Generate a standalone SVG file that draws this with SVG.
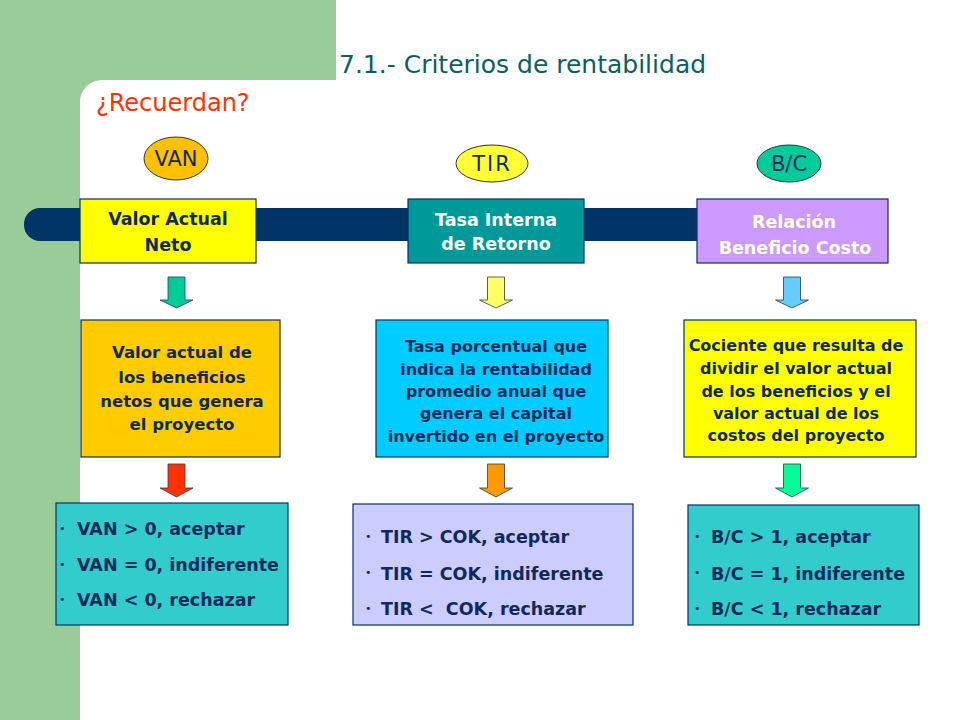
<svg xmlns="http://www.w3.org/2000/svg" width="960" height="720" viewBox="0 0 960 720">
<style>
.bx{stroke:#003366;stroke-width:1.2}
.t{font-family:"DejaVu Sans","Liberation Sans",sans-serif;font-weight:bold;fill:#0f2a5a;text-anchor:middle}
.tw{fill:#ffffff}
.tc{fill:#ffffe6}
.lab{font-family:"DejaVu Sans","Liberation Sans",sans-serif;font-size:21px;fill:#0f2a5a;text-anchor:middle}
.li{font-family:"DejaVu Sans","Liberation Sans",sans-serif;font-weight:bold;font-size:17.5px;fill:#0f2a5a;white-space:pre}
.bu{font-family:"DejaVu Sans","Liberation Sans",sans-serif;font-size:11px;fill:#0f2a5a}
.el{stroke:#333333;stroke-width:1}
.ar{stroke:#2b3a55;stroke-width:0.8}
</style>
<defs>
<path id="a1" d="M-8.5,0 H8.5 V23 H16.5 L0,31 L-16.5,23 H-8.5 Z"/>
<path id="a2" d="M-8.5,0 H8.5 V24 H16.5 L0,33 L-16.5,24 H-8.5 Z"/>
</defs>
<rect x="0" y="0" width="960" height="720" fill="#ffffff"/>
<rect x="0" y="0" width="336" height="110" fill="#99cc99"/>
<rect x="0" y="0" width="80" height="720" fill="#99cc99"/>
<rect x="80" y="80" width="900" height="700" rx="22" fill="#ffffff"/>
<text x="339" y="73" font-family="DejaVu Sans, Liberation Sans, sans-serif" font-size="25" fill="#0b5f5f">7.1.- Criterios de rentabilidad</text>
<text x="96" y="111" font-family="DejaVu Sans, Liberation Sans, sans-serif" font-size="24" fill="#ff3300">¿Recuerdan?</text>
<g id="connectors">
<rect x="24" y="208" width="780" height="33" rx="16" fill="#003366"/>
<use href="#a1" x="176.5" y="277" fill="#00cc99" class="ar"/>
<use href="#a1" x="496" y="277" fill="#ffff66" class="ar"/>
<use href="#a1" x="792" y="277" fill="#66ccff" class="ar"/>
<use href="#a2" x="176.5" y="464" fill="#ff3300" class="ar"/>
<use href="#a2" x="496" y="464" fill="#ff9900" class="ar"/>
<use href="#a2" x="792" y="464" fill="#00ff99" class="ar"/>
</g>
<g id="van-label"><ellipse cx="176" cy="158.5" rx="32" ry="21.5" fill="#ffc000" class="el"/><text x="176" y="166" class="lab" font-size="22">VAN</text></g>
<g id="tir-label"><ellipse cx="492" cy="163.5" rx="36" ry="18.5" fill="#ffff33" class="el"/><text x="492" y="171" class="lab" letter-spacing="2">TIR</text></g>
<g id="bc-label"><ellipse cx="789" cy="163.5" rx="32" ry="18.5" fill="#00cc99" class="el"/><text x="789" y="171" class="lab">B/C</text></g>
<g id="van-head"><rect x="80" y="199" width="176" height="64" fill="#ffff00" class="bx"/><text class="t" font-size="17.5"><tspan x="168" y="225">Valor Actual</tspan><tspan x="168" y="251">Neto</tspan></text></g>
<g id="tir-head"><rect x="408" y="199" width="176" height="64" fill="#009999" class="bx"/><text class="t tw" font-size="17.5"><tspan x="496" y="226">Tasa Interna</tspan><tspan x="496" y="250">de Retorno</tspan></text></g>
<g id="bc-head"><rect x="697" y="199" width="191" height="64" fill="#cc99ff" class="bx"/><text class="t tc" font-size="17.5"><tspan x="794" y="228">Relación</tspan><tspan x="795" y="254">Beneficio Costo</tspan></text></g>
<g id="van-def"><rect x="81" y="320" width="199" height="137" fill="#ffcc00" class="bx"/><text class="t" font-size="16.5"><tspan x="182" y="358">Valor actual de</tspan><tspan x="182" y="383">los beneficios</tspan><tspan x="182" y="407">netos que genera</tspan><tspan x="182" y="430">el proyecto</tspan></text></g>
<g id="tir-def"><rect x="376" y="320" width="232" height="137" fill="#00ccff" class="bx"/><text class="t" font-size="16"><tspan x="496" y="352">Tasa porcentual que</tspan><tspan x="496" y="375">indica la rentabilidad</tspan><tspan x="496" y="397">promedio anual que</tspan><tspan x="496" y="419">genera el capital</tspan><tspan x="496" y="442">invertido en el proyecto</tspan></text></g>
<g id="bc-def"><rect x="684" y="320" width="232" height="137" fill="#ffff00" class="bx"/><text class="t" font-size="16"><tspan x="796" y="351">Cociente que resulta de</tspan><tspan x="796" y="374">dividir el valor actual</tspan><tspan x="796" y="397">de los beneficios y el</tspan><tspan x="796" y="419">valor actual de los</tspan><tspan x="796" y="441">costos del proyecto</tspan></text></g>
<g id="van-rule"><rect x="56" y="503" width="232" height="122" fill="#33cccc" class="bx"/>
<text class="bu"><tspan x="59" y="532">•</tspan><tspan x="59" y="568">•</tspan><tspan x="59" y="603">•</tspan></text>
<text class="li"><tspan x="77" y="535">VAN &gt; 0, aceptar</tspan><tspan x="77" y="571">VAN = 0, indiferente</tspan><tspan x="77" y="606">VAN &lt; 0, rechazar</tspan></text></g>
<g id="tir-rule"><rect x="353" y="504" width="280" height="121" fill="#ccccff" class="bx"/>
<text class="bu"><tspan x="365" y="540">•</tspan><tspan x="365" y="576">•</tspan><tspan x="365" y="612">•</tspan></text>
<text class="li" xml:space="preserve"><tspan x="381" y="543">TIR &gt; COK, aceptar</tspan><tspan x="381" y="580">TIR = COK, indiferente</tspan><tspan x="381" y="615">TIR &lt;  COK, rechazar</tspan></text></g>
<g id="bc-rule"><rect x="688" y="505" width="231" height="120" fill="#33cccc" class="bx"/>
<text class="bu"><tspan x="694" y="540">•</tspan><tspan x="694" y="576">•</tspan><tspan x="694" y="612">•</tspan></text>
<text class="li"><tspan x="711" y="543">B/C &gt; 1, aceptar</tspan><tspan x="711" y="580">B/C = 1, indiferente</tspan><tspan x="711" y="615">B/C &lt; 1, rechazar</tspan></text></g>
</svg>
